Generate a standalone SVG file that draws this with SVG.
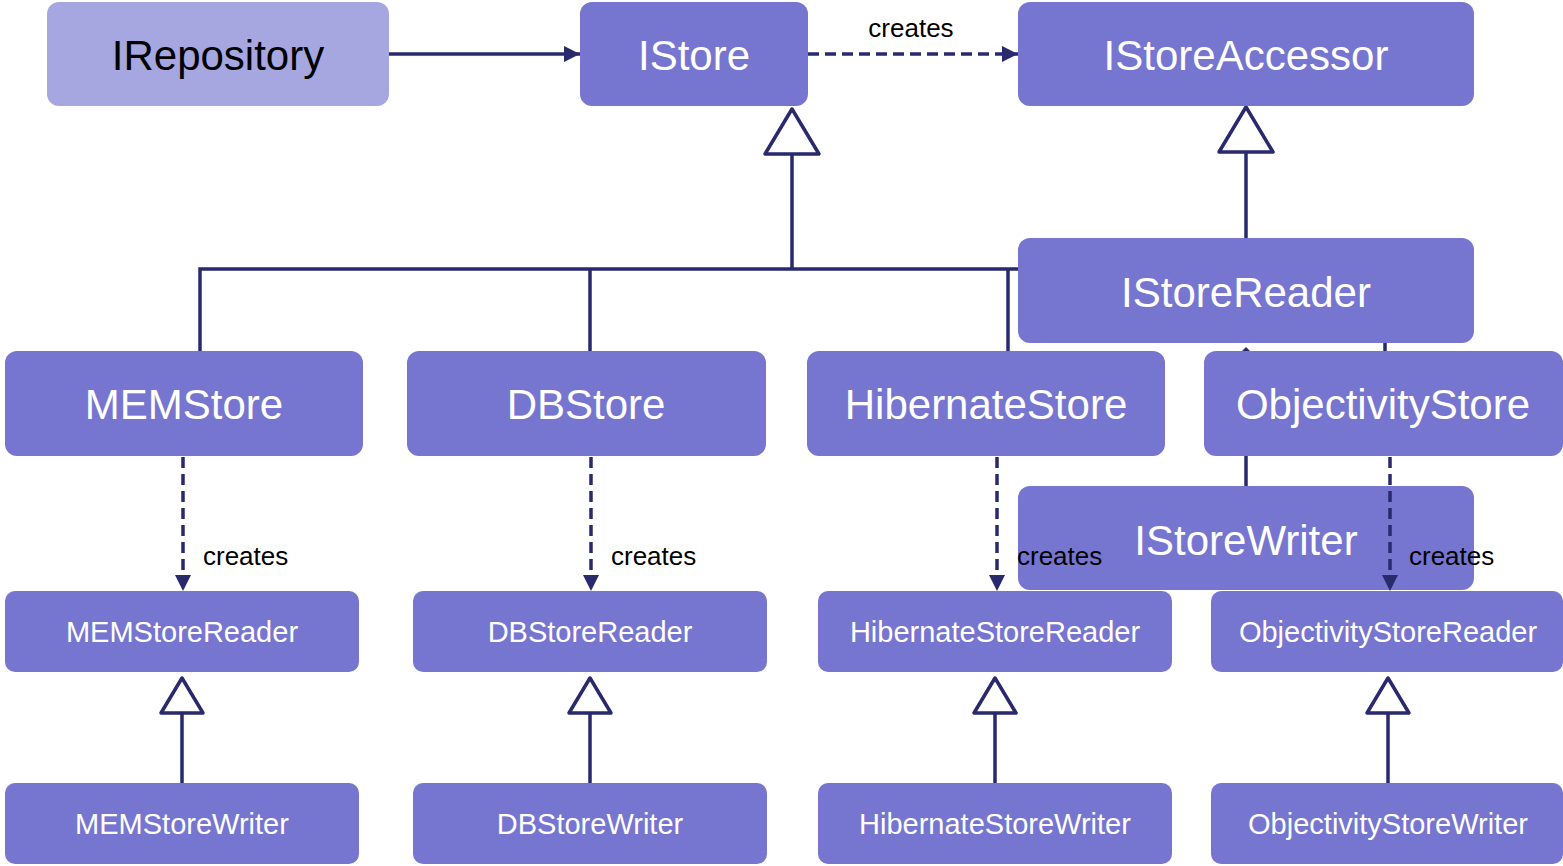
<svg xmlns="http://www.w3.org/2000/svg" width="1563" height="866" viewBox="0 0 1563 866">
<defs>
<style>
.node{fill:#7676d0;}
.light{fill:#a6a6e1;}
.big{font-family:"Liberation Sans",Arial,sans-serif;font-size:42px;fill:#ffffff;text-anchor:middle;}
.small{font-family:"Liberation Sans",Arial,sans-serif;font-size:29px;fill:#ffffff;text-anchor:middle;}
.dark{fill:#000000;}
.lbl{font-family:"Liberation Sans",Arial,sans-serif;font-size:26px;fill:#000000;}
.ln{stroke:#29296e;stroke-width:3.5;fill:none;}
.dash{stroke:#29296e;stroke-width:3.5;fill:none;stroke-dasharray:11 6;}
.tri{stroke:#29296e;stroke-width:3.5;fill:#ffffff;stroke-linejoin:round;}
</style>
<marker id="arr" viewBox="0 0 16 16" refX="16" refY="8" markerWidth="16" markerHeight="16" markerUnits="userSpaceOnUse" orient="auto">
<path d="M0,0 L16,8 L0,16 z" fill="#29296e"/>
</marker>
</defs>
<rect width="1563" height="866" fill="#ffffff"/>

<g id="connectors-back">
<path class="ln" d="M200,351 V269 H1018"/>
<path class="ln" d="M590,269 V351"/>
<path class="ln" d="M1008,269 V351"/>
<path class="ln" d="M792,154 V269"/>
<path class="ln" d="M1246,152 V238"/>
<path class="ln" d="M1385,343 V351"/>
<path class="ln" d="M1246,456 V486"/>
<path d="M1242,351 L1246,347 L1250,351 z" fill="#29296e"/>
<path class="ln" d="M182,713 V783"/>
<path class="ln" d="M590,713 V783"/>
<path class="ln" d="M995,713 V783"/>
<path class="ln" d="M1388,713 V783"/>
<polygon class="tri" points="792,109 819,154 765,154"/>
<polygon class="tri" points="1246,107 1273,152 1219,152"/>
<polygon class="tri" points="182,678 203,713 161,713"/>
<polygon class="tri" points="590,678 611,713 569,713"/>
<polygon class="tri" points="995,678 1016,713 974,713"/>
<polygon class="tri" points="1388,678 1409,713 1367,713"/>
<path class="ln" d="M389,54 H580" marker-end="url(#arr)"/>
</g>

<g id="IRepository"><rect class="light" x="47" y="2" width="342" height="104" rx="12"/><text class="big" x="218" y="70" fill="#000" style="fill:#000000">IRepository</text></g>
<g id="IStore"><rect class="node" x="580" y="2" width="228" height="104" rx="12"/><text class="big" x="694" y="70">IStore</text></g>
<g id="IStoreAccessor"><rect class="node" x="1018" y="2" width="456" height="104" rx="12"/><text class="big" x="1246" y="70">IStoreAccessor</text></g>
<g id="IStoreReader"><rect class="node" x="1018" y="238" width="456" height="105" rx="12"/><text class="big" x="1246" y="307">IStoreReader</text></g>
<g id="IStoreWriter"><rect class="node" x="1018" y="486" width="456" height="104" rx="12"/><text class="big" x="1246" y="555">IStoreWriter</text></g>

<g id="MEMStore"><rect class="node" x="5" y="351" width="358" height="105" rx="12"/><text class="big" x="184" y="419">MEMStore</text></g>
<g id="DBStore"><rect class="node" x="407" y="351" width="359" height="105" rx="12"/><text class="big" x="586" y="419">DBStore</text></g>
<g id="HibernateStore"><rect class="node" x="807" y="351" width="358" height="105" rx="12"/><text class="big" x="986" y="419">HibernateStore</text></g>
<g id="ObjectivityStore"><rect class="node" x="1204" y="351" width="359" height="105" rx="12"/><text class="big" x="1383" y="419">ObjectivityStore</text></g>

<g id="MEMStoreReader"><rect class="node" x="5" y="591" width="354" height="81" rx="10"/><text class="small" x="182" y="642">MEMStoreReader</text></g>
<g id="DBStoreReader"><rect class="node" x="413" y="591" width="354" height="81" rx="10"/><text class="small" x="590" y="642">DBStoreReader</text></g>
<g id="HibernateStoreReader"><rect class="node" x="818" y="591" width="354" height="81" rx="10"/><text class="small" x="995" y="642">HibernateStoreReader</text></g>
<g id="ObjectivityStoreReader"><rect class="node" x="1211" y="591" width="352" height="81" rx="10"/><text class="small" x="1388" y="642">ObjectivityStoreReader</text></g>

<g id="MEMStoreWriter"><rect class="node" x="5" y="783" width="354" height="81" rx="10"/><text class="small" x="182" y="834">MEMStoreWriter</text></g>
<g id="DBStoreWriter"><rect class="node" x="413" y="783" width="354" height="81" rx="10"/><text class="small" x="590" y="834">DBStoreWriter</text></g>
<g id="HibernateStoreWriter"><rect class="node" x="818" y="783" width="354" height="81" rx="10"/><text class="small" x="995" y="834">HibernateStoreWriter</text></g>
<g id="ObjectivityStoreWriter"><rect class="node" x="1211" y="783" width="352" height="81" rx="10"/><text class="small" x="1388" y="834">ObjectivityStoreWriter</text></g>

<g id="connectors-front">
<path class="dash" d="M808,54 H1018" marker-end="url(#arr)"/>
<text class="lbl" x="911" y="37" text-anchor="middle">creates</text>
<path class="dash" d="M183,457 V591" marker-end="url(#arr)"/>
<text class="lbl" x="203" y="565">creates</text>
<path class="dash" d="M591,457 V591" marker-end="url(#arr)"/>
<text class="lbl" x="611" y="565">creates</text>
<path class="dash" d="M997,457 V591" marker-end="url(#arr)"/>
<text class="lbl" x="1017" y="565">creates</text>
<path class="dash" d="M1390,457 V591" marker-end="url(#arr)"/>
<text class="lbl" x="1409" y="565">creates</text>
</g>
</svg>
